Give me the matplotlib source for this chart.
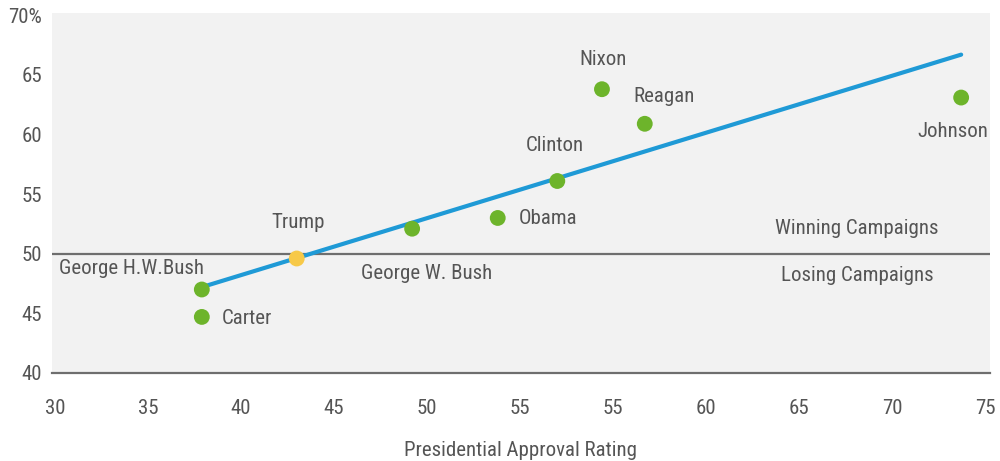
import matplotlib
matplotlib.use("Agg")
import matplotlib.pyplot as plt
from matplotlib import font_manager

# ---------------- dane ----------------
presidents = ["George H.W.Bush", "Carter", "Trump", "George W. Bush", "Obama",
              "Clinton", "Nixon", "Reagan", "Johnson"]
approval = [37.9, 37.9, 43.0, 49.2, 53.8, 57.0, 59.4, 61.7, 78.7]
vote_share = [47.0, 44.7, 49.6, 52.1, 53.0, 56.1, 63.8, 60.9, 63.1]

trend_x = [37.9, 78.7]
trend_y = [47.2, 66.7]

x_ticks = [30, 35, 40, 45, 50, 55, 60, 65, 70, 75, 80]
x_tick_labels = ["30", "35", "40", "45", "50", "55", "55", "60", "65", "70", "75"]
y_ticks = [40, 45, 50, 55, 60, 65, 70]
y_tick_labels = ["40", "45", "50", "55", "60", "65", "70%"]

# ---------------- styl ----------------
available = {f.name for f in font_manager.fontManager.ttflist}
font = next((f for f in ['Roboto Condensed', 'Liberation Sans Narrow', 'Roboto']
             if f in available), 'DejaVu Sans')
plt.rcParams['font.family'] = [font, 'DejaVu Sans']
txt = "#555555"
green = "#6db42b"
yellow = "#f7c948"
blue = "#1f9ad6"

fig = plt.figure(figsize=(10, 4.61), dpi=100)
ax = fig.add_axes([0.052, 0.191, 0.938, 0.781])
ax.set_facecolor("#f2f2f2")

ax.plot(trend_x, trend_y, color=blue, lw=3, zorder=2, solid_capstyle='round')
ax.axhline(50, color="#6e6e6e", lw=1.6, zorder=1)
ax.axhline(40, color="#6e6e6e", lw=1.6, zorder=1, clip_on=False)

colors = [yellow if p == "Trump" else green for p in presidents]
ax.scatter(approval, vote_share, s=130, c=colors, zorder=3, linewidths=0)

# etykiety punktow (przesuniecie w pikselach, wyrownanie)
label_pos = {
    "George H.W.Bush": (-70, 21, 'center'),
    "Carter": (20, -2, 'left'),
    "Trump": (1, 36, 'center'),
    "George W. Bush": (14, -45, 'center'),
    "Obama": (21, -1, 'left'),
    "Clinton": (-2, 36, 'center'),
    "Nixon": (1, 30, 'center'),
    "Reagan": (19, 27, 'center'),
    "Johnson": (-8, -34, 'center'),
}
for p, xv, yv in zip(presidents, approval, vote_share):
    dx, dy, ha = label_pos[p]
    ax.annotate(p, (xv, yv), xytext=(dx, dy), textcoords='offset pixels',
                ha=ha, va='center', fontsize=15, color=txt)

ax.text(73.1, 52.1, "Winning Campaigns", ha='center', va='center', fontsize=15, color=txt)
ax.text(73.1, 48.2, "Losing Campaigns", ha='center', va='center', fontsize=15, color=txt)

ax.set_xlim(29.85, 80.25)
ax.set_ylim(40, 70.2)
ax.set_xticks(x_ticks)
ax.set_xticklabels(x_tick_labels)
ax.set_yticks(y_ticks)
ax.set_yticklabels(y_tick_labels)
ax.tick_params(length=0, labelsize=15, labelcolor=txt)
ax.tick_params(axis='x', pad=19)
ax.tick_params(axis='y', pad=7)
for s in ax.spines.values():
    s.set_visible(False)

ax.set_xlabel("Presidential Approval Rating", fontsize=15, color=txt, labelpad=16)

fig.savefig("out.png", dpi=100, facecolor="white")
